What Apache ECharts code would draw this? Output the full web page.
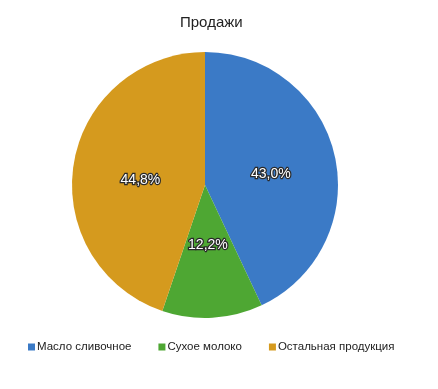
<!DOCTYPE html>
<html><head><meta charset="utf-8">
<script src="https://cdn.jsdelivr.net/npm/echarts@6/dist/echarts.min.js"></script>
<style>html,body{margin:0;padding:0;background:#fff}#c{width:438px;height:389px}</style>
</head><body><div id="c"></div>
<script>
const categories = ['Масло сливочное', 'Сухое молоко', 'Остальная продукция'];
const values = [43.0, 12.2, 44.8];
const colors = ['#3b7ac6', '#4ea733', '#d59a1e'];
const title = 'Продажи';
const labelOffsets = [[-2, 4], [-1, -9], [4, 6]];

const chart = echarts.init(document.getElementById('c'));
chart.setOption({
  animation: false,
  title: { text: title, left: 175, top: 10, textStyle: { fontFamily: 'Liberation Sans, Arial', fontSize: 15, fontWeight: 'normal', color: '#222' } },
  legend: {
    bottom: 31, left: 23, itemWidth: 7, itemHeight: 7, itemGap: 27, icon: 'rect',
    textStyle: { fontFamily: 'Liberation Sans, Arial', fontSize: 11.5, color: '#222', padding: [0, 0, 0, -3] },
    data: categories
  },
  color: colors,
  series: [{
    type: 'pie', center: [205, 185], radius: 133, startAngle: 90, clockwise: true,
    data: categories.map((c, i) => ({ name: c, value: values[i], label: { offset: labelOffsets[i] } })),
    label: {
      position: 'inside', fontFamily: 'Liberation Sans, Arial', fontSize: 14, color: '#fff',
      textBorderColor: '#2a2a2a', textBorderWidth: 2.5,
      formatter: p => p.value.toFixed(1).replace('.', ',') + '%'
    },
    labelLine: { show: false },
    itemStyle: { borderWidth: 0 },
    emphasis: { disabled: true }
  }]
});
</script></body></html>
